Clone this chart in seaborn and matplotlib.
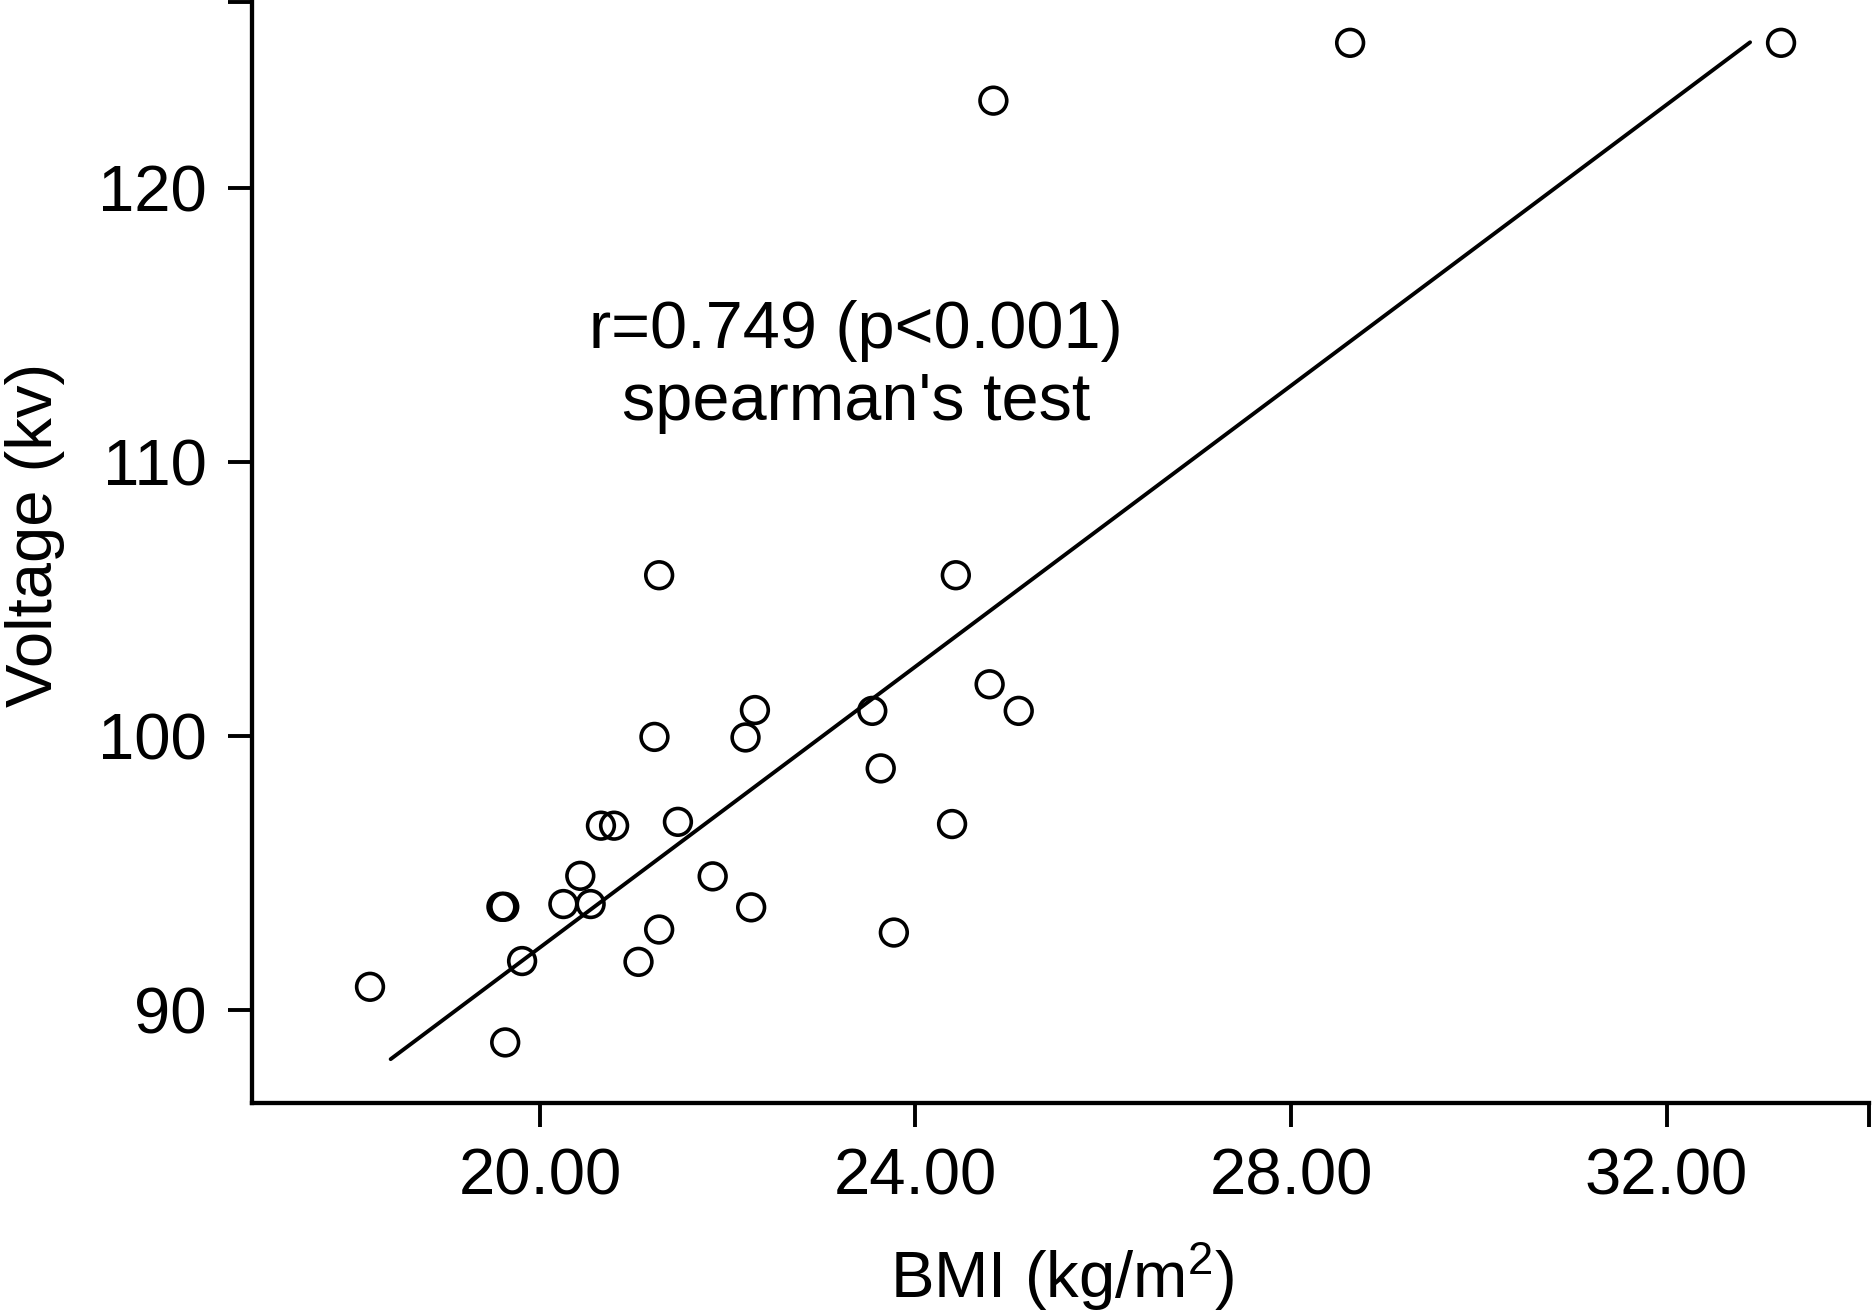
import matplotlib
matplotlib.use("Agg")
import matplotlib.pyplot as plt
import pandas as pd
import seaborn as sns

# ---- data ----
bmi = [18.19, 19.63, 19.59, 19.62, 19.81, 20.25, 20.43, 20.54, 20.65, 20.79,
       21.05, 21.22, 21.27, 21.27, 21.47, 21.84, 22.19, 22.29, 22.25, 23.54,
       23.63, 23.77, 24.39, 24.43, 24.79, 24.83, 25.10, 28.63, 33.22]
voltage = [90.84, 88.81, 93.76, 93.76, 91.78, 93.86, 94.89, 93.86, 96.72, 96.72,
           91.75, 99.96, 105.86, 92.93, 96.86, 94.87, 99.94, 100.94, 93.74, 100.91,
           98.81, 92.82, 96.78, 105.86, 101.88, 123.18, 100.91, 125.29, 125.29]
fit_bmi = [18.41, 32.89]
fit_voltage = [88.20, 125.31]

x_ticks = [20, 24, 28, 32]
x_tick_labels = ["20.00", "24.00", "28.00", "32.00"]
y_ticks = [90, 100, 110, 120]
y_tick_labels = ["90", "100", "110", "120"]
x_limits = [16.93, 34.16]
y_limits = [86.61, 126.78]

annotation_text = "r=0.749 (p<0.001)\nspearman's test"
annotation_pos = [23.37, 115.90]
x_label = "BMI (kg/m$^{\\mathregular{2}}$)"
y_label = "Voltage (kv)"

# ---- style ----
sns.set_theme(style="ticks")
plt.rcParams["font.family"] = ["Liberation Sans", "DejaVu Sans"]
plt.rcParams["mathtext.fontset"] = "custom"
plt.rcParams["mathtext.rm"] = "Liberation Sans"
plt.rcParams["mathtext.it"] = "Liberation Sans:italic"
plt.rcParams["mathtext.bf"] = "Liberation Sans:bold"

fs = 47

fig = plt.figure(figsize=(18.72, 13.15), dpi=100)
fig.patch.set_facecolor("white")
ax = fig.add_axes([0.13446, 0.16144, 0.8641, 0.83704])
ax.set_facecolor("white")

df = pd.DataFrame({"BMI": bmi, "Voltage": voltage})
fit_df = pd.DataFrame({"BMI": fit_bmi, "Voltage": fit_voltage})

sns.lineplot(data=fit_df, x="BMI", y="Voltage", color="black",
             linewidth=2.8, ax=ax)
sns.scatterplot(data=df, x="BMI", y="Voltage", marker="o", s=370,
                facecolors="none", edgecolor="black", linewidth=2.6,
                ax=ax, zorder=3)

ax.set_xlim(*x_limits)
ax.set_ylim(*y_limits)
ax.set_xticks(x_ticks + [x_limits[1]], x_tick_labels + [""])
ax.set_yticks(y_ticks + [y_limits[1]], y_tick_labels + [""])
ax.tick_params(axis="both", direction="out", length=17.5, width=2.8,
               labelsize=fs, pad=15, color="black", labelcolor="black")

sns.despine(ax=ax)
for side in ["left", "bottom"]:
    ax.spines[side].set_linewidth(3.1)
    ax.spines[side].set_color("black")

ax.set_xlabel(x_label, fontsize=fs, color="black")
ax.set_ylabel(y_label, fontsize=fs, color="black")
ax.xaxis.set_label_coords(0.5013, -0.1247)
ax.yaxis.set_label_coords(-0.1155, 0.516)

ax.text(annotation_pos[0], annotation_pos[1], annotation_text,
        ha="center", va="top", fontsize=48, linespacing=1.2, color="black")

fig.savefig("out.png", dpi=100, facecolor="white")
